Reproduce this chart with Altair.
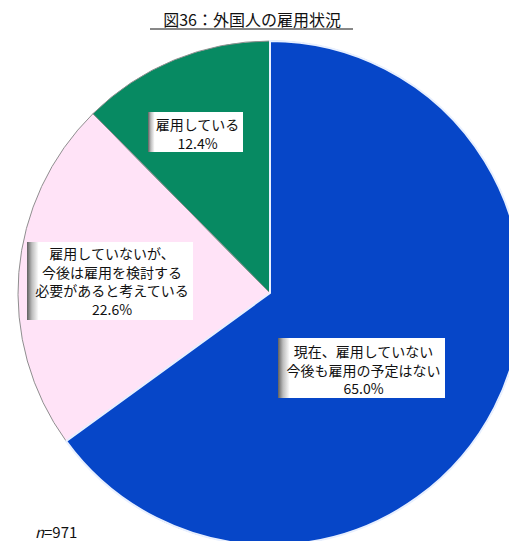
import math
import altair as alt
import pandas as pd

# ---- data ----
categories = ["現在、雇用していない今後も雇用の予定はない",
              "雇用していないが、今後は雇用を検討する必要があると考えている",
              "雇用している"]
shares = [65.0, 22.6, 12.4]
label_lines = [["現在、雇用していない", "今後も雇用の予定はない"],
               ["雇用していないが、", "今後は雇用を検討する", "必要があると考えている"],
               ["雇用している"]]
title_text = "図36：外国人の雇用状況"
n_value = "971"

# ---- styles / layout ----
colors = ["#0646C8", "#FFE3F7", "#078A62"]
W, H = 501, 533
CX, CY, R = 262, 285, 252
FONT = "Noto Sans CJK JP"
# label boxes (x0, x1, y0, y1) and first text line y
boxes = [(270, 437, 330, 390, 345), (19, 185, 234, 312, 247), (140, 235, 104, 144, 118)]
LINE = 18.5

pie_df = pd.DataFrame({"category": categories, "share": shares,
                       "order": [0, 1, 2], "color": colors})

base = alt.Chart(pie_df).transform_window(
    cum="sum(share)", sort=[alt.SortField("order")], frame=[None, 0]
).transform_calculate(start="datum.cum - datum.share")

theta_scale = alt.Scale(domain=[0, 100], range=[0, 2 * math.pi])

arcs = base.mark_arc(outerRadius=R, stroke="#8f8f8f", strokeWidth=1).encode(
    theta=alt.Theta("start:Q", scale=theta_scale),
    theta2="cum:Q",
    color=alt.Color("color:N", scale=None),
    x=alt.value(CX), y=alt.value(CY),
)
blue_edge = base.transform_filter(alt.datum.order == 0).mark_arc(
    outerRadius=R, stroke="#e8f0ff", strokeWidth=2, fill="#0646C8"
).encode(
    theta=alt.Theta("start:Q", scale=theta_scale),
    theta2="cum:Q",
    x=alt.value(CX), y=alt.value(CY),
)

# label boxes
box_rows = []
text_rows = []
for i, (x0, x1, y0, y1, ty) in enumerate(boxes):
    box_rows.append({"x0": x0, "x1": x1, "y0": y0, "y1": y1})
    lines = label_lines[i] + [f"{shares[i]:.1f}%"]
    for j, ln in enumerate(lines):
        text_rows.append({"t": ln, "px": (x0 + x1) / 2 + 2, "py": ty + j * LINE})

box_df = pd.DataFrame(box_rows)
text_df = pd.DataFrame(text_rows)

shadow = alt.Chart(box_df).mark_rect(
    fill=alt.LinearGradient(
        gradient="linear",
        stops=[alt.GradientStop(color="#5f5f5f", offset=0),
               alt.GradientStop(color="#bdbdbd", offset=0.03),
               alt.GradientStop(color="#ffffff", offset=0.07),
               alt.GradientStop(color="#ffffff", offset=1)],
        x1=0, x2=1, y1=0, y2=0)
).encode(
    x=alt.X("x0:Q", scale=None), x2="x1:Q",
    y=alt.Y("y0:Q", scale=None), y2="y1:Q",
)

labels = alt.Chart(text_df).mark_text(
    font=FONT, fontSize=14, color="#111111", baseline="middle", align="center"
).encode(
    x=alt.X("px:Q", scale=None), y=alt.Y("py:Q", scale=None), text="t:N"
)

title_df = pd.DataFrame({"t": [title_text]})
title = alt.Chart(title_df).mark_text(
    font=FONT, fontSize=16, color="#111111", baseline="middle", align="center"
).encode(x=alt.value(244), y=alt.value(13), text="t:N")
underline = alt.Chart(title_df).mark_rule(color="#111111", strokeWidth=1).encode(
    x=alt.value(142), x2=alt.value(345), y=alt.value(21))

n_df = pd.DataFrame({"n": ["n"], "v": ["=" + n_value]})
n_lab = alt.Chart(n_df).mark_text(
    font=FONT, fontSize=15, fontStyle="italic", color="#111111", baseline="middle", align="left"
).encode(x=alt.value(27), y=alt.value(525), text="n:N")
v_lab = alt.Chart(n_df).mark_text(
    font=FONT, fontSize=15, color="#111111", baseline="middle", align="left"
).encode(x=alt.value(36), y=alt.value(525), text="v:N")

chart = alt.layer(arcs, blue_edge, shadow, labels, title, underline, n_lab, v_lab).properties(
    width=W, height=H, autosize=alt.AutoSizeParams(type="none"), padding=0
).configure_view(stroke=None)

chart.save("out.html", embed_options={"renderer": "svg", "actions": False})
